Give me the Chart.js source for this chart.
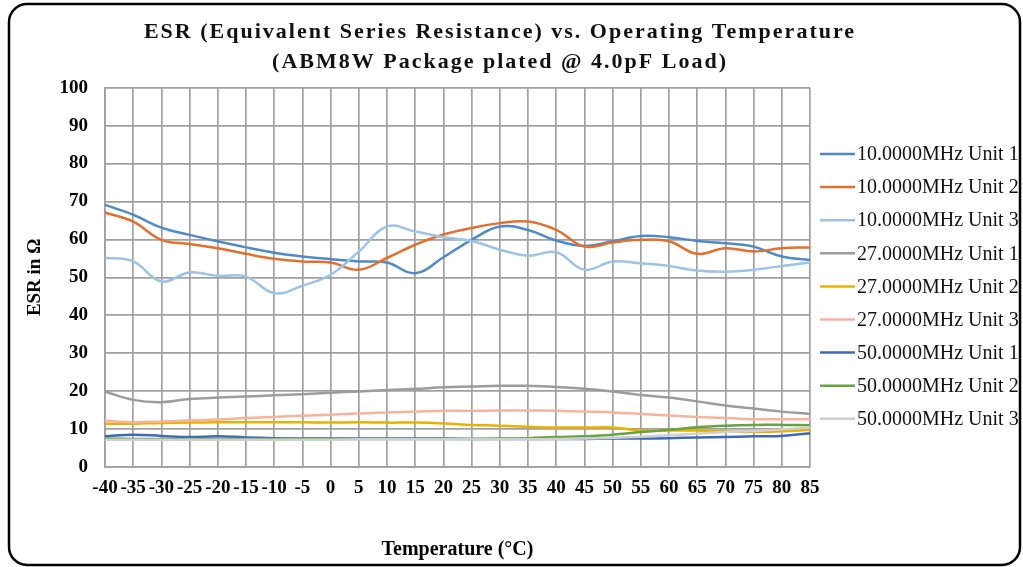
<!DOCTYPE html>
<html><head><meta charset="utf-8">
<script src="https://cdn.jsdelivr.net/npm/chart.js@4.4.0/dist/chart.umd.min.js"></script>
<style>html,body{margin:0;padding:0;background:#fff;overflow:hidden;}</style>
</head><body>
<canvas id="c" width="1023" height="567"></canvas>
<script>
// ---- data ----
const temperatures = [-40,-35,-30,-25,-20,-15,-10,-5,0,5,10,15,20,25,30,35,40,45,50,55,60,65,70,75,80,85];
const seriesNames = ['10.0000MHz Unit 1','10.0000MHz Unit 2','10.0000MHz Unit 3','27.0000MHz Unit 1','27.0000MHz Unit 2','27.0000MHz Unit 3','50.0000MHz Unit 1','50.0000MHz Unit 2','50.0000MHz Unit 3'];
const s10u1 = [69.1,66.5,63.1,61.2,59.5,57.9,56.5,55.5,54.8,54.2,53.9,51.1,55.3,59.9,63.4,62.5,59.7,58.3,59.5,60.9,60.6,59.6,59.0,58.1,55.5,54.6];
const s10u2 = [67.1,64.7,59.9,58.8,57.7,56.2,54.9,54.2,53.9,52.0,55.1,58.6,61.3,63.0,64.3,64.7,62.5,58.1,59.2,59.9,59.5,56.2,57.7,56.8,57.7,57.9];
const s10u3 = [55.2,54.2,48.9,51.3,50.4,50.2,45.8,47.8,50.7,56.8,63.4,62.1,60.6,59.6,57.3,55.7,56.6,52.0,54.2,53.7,53.0,51.8,51.5,52.0,53.0,53.9];
const s27u1 = [19.9,17.7,17.1,17.9,18.3,18.6,18.9,19.2,19.6,19.9,20.3,20.6,21.0,21.2,21.4,21.4,21.1,20.6,19.9,19.0,18.3,17.3,16.2,15.4,14.6,14.0];
const s27u2 = [11.4,11.4,11.6,11.7,11.8,11.8,11.8,11.8,11.7,11.8,11.7,11.7,11.5,11.1,10.9,10.6,10.4,10.4,10.4,9.6,9.6,9.6,9.4,9.2,9.4,9.8];
const s27u3 = [12.2,11.8,12.0,12.3,12.5,12.9,13.2,13.5,13.8,14.1,14.4,14.6,14.8,14.8,14.9,14.9,14.8,14.6,14.4,14.0,13.6,13.2,12.9,12.6,12.6,12.6];
const s50u1 = [8.1,8.5,8.2,7.9,8.1,7.8,7.6,7.5,7.5,7.5,7.5,7.5,7.5,7.4,7.4,7.4,7.4,7.4,7.5,7.5,7.6,7.8,7.9,8.1,8.2,8.9];
const s50u2 = [7.5,7.4,7.4,7.4,7.4,7.4,7.4,7.4,7.4,7.4,7.4,7.4,7.4,7.4,7.5,7.6,7.9,8.1,8.5,9.2,9.8,10.5,10.9,11.1,11.1,11.0];
const s50u3 = [7.2,7.2,7.2,7.2,7.2,7.2,7.2,7.2,7.2,7.3,7.3,7.3,7.3,7.3,7.3,7.3,7.4,7.5,7.7,8.0,8.4,8.8,9.2,9.5,9.9,10.4];
const yMin = 0, yMax = 100, yStep = 5;
const titleLines = ['ESR (Equivalent Series Resistance) vs. Operating Temperature','(ABM8W Package plated @ 4.0pF Load)'];
const xTitle = 'Temperature (\u00B0C)';
const yTitle = 'ESR in \u03A9';

const seriesValues = [s10u1,s10u2,s10u3,s27u1,s27u2,s27u3,s50u1,s50u2,s50u3];
const colors = ['#4f8ac6','#e2702f','#9dc3e6','#9c9c9c','#e9b100','#f7b49c','#3f68b8','#65a343','#cfcfcf'];

const SERIF = "'Liberation Serif', 'Times New Roman', serif";

const framePlugin = {
  id: 'frame',
  beforeUpdate(chart) {
    const tb = chart.titleBlock;
    if (tb && !tb._spaced) {
      const orig = tb.draw.bind(tb);
      tb.draw = function (...a) {
        const c = chart.ctx; c.save();
        if ('letterSpacing' in c) c.letterSpacing = '2px';
        orig(...a); c.restore();
      };
      tb._spaced = true;
    }
  },
  beforeDraw(chart) {
    const c = chart.ctx;
    c.save(); c.fillStyle = '#fff'; c.fillRect(0,0,chart.width,chart.height); c.restore();
  },
  afterDraw(chart) {
    const c = chart.ctx;
    // legend
    c.save();
    c.font = '20px ' + SERIF;
    c.textBaseline = 'middle';
    c.fillStyle = '#111';
    chart.data.datasets.forEach((ds, i) => {
      const y = 154 + 33.1 * i;
      c.strokeStyle = ds.borderColor; c.lineWidth = 2.5;
      c.beginPath(); c.moveTo(820, y); c.lineTo(855, y); c.stroke();
      c.fillText(ds.label, 857, y + 1);
    });
    // frame
    c.strokeStyle = '#000'; c.lineWidth = 2.5;
    const x0 = 9, y0 = 4, x1 = 1020, y1 = 565, r = 18;
    c.beginPath();
    c.moveTo(x0 + r, y0); c.lineTo(x1 - r, y0); c.arcTo(x1, y0, x1, y0 + r, r);
    c.lineTo(x1, y1 - r); c.arcTo(x1, y1, x1 - r, y1, r);
    c.lineTo(x0 + r, y1); c.arcTo(x0, y1, x0, y1 - r, r);
    c.lineTo(x0, y0 + r); c.arcTo(x0, y0, x0 + r, y0, r);
    c.closePath(); c.stroke();
    c.restore();
  }
};

new Chart(document.getElementById('c'), {
  type: 'line',
  data: {
    labels: temperatures.map(String),
    datasets: seriesValues.map((vals, i) => ({
      label: seriesNames[i],
      data: vals,
      borderColor: colors[i],
      backgroundColor: colors[i],
      borderWidth: 2.5,
      pointRadius: 0,
      tension: 0.4,
      fill: false,
      order: seriesValues.length - i
    }))
  },
  options: {
    responsive: false,
    animation: false,
    devicePixelRatio: 1,
    layout: { padding: { left: 12, right: 35, top: 10, bottom: 2 } },
    plugins: {
      legend: { display: false },
      tooltip: { enabled: false },
      title: {
        display: true,
        text: titleLines,
        color: '#111',
        font: { family: SERIF, weight: 'bold', size: 22, lineHeight: 1.38 },
        padding: { top: 7, bottom: 10 }
      }
    },
    scales: {
      x: {
        type: 'category',
        offset: false,
        grid: { color: '#a0a0a0', lineWidth: 1.7, drawTicks: false, offset: false },
        border: { display: true, color: '#a0a0a0', width: 1.7 },
        ticks: { autoSkip: false, maxRotation: 0, minRotation: 0, color: '#000', padding: 10,
                 font: { family: SERIF, weight: 'bold', size: 19 } },
        title: { display: true, text: xTitle, color: '#000', padding: { top: 0, bottom: 3 },
                 font: { family: SERIF, weight: 'bold', size: 20 } },
        afterFit: s => { s.height = 567 - 2 - 467; }
      },
      y: {
        min: yMin, max: yMax,
        grid: { color: ctx => (ctx.tick && ctx.tick.value % 10 === 0) ? '#a0a0a0' : '#d6d6d6', lineWidth: 1.7, drawTicks: false },
        border: { display: true, color: '#a0a0a0', width: 1.7 },
        ticks: { stepSize: yStep, color: '#000', padding: 17,
                 callback: v => (v % 10 === 0 ? String(v) : ''),
                 font: { family: SERIF, weight: 'bold', size: 19 } },
        title: { display: true, text: yTitle, color: '#000', padding: { top: 12, bottom: 0 },
                 font: { family: SERIF, weight: 'bold', size: 19 } },
        afterFit: s => { s.width = 105 - 12; }
      },
      legendSpace: {
        type: 'linear', position: 'right', display: true,
        grid: { display: false, drawOnChartArea: false },
        ticks: { display: false },
        border: { display: false },
        afterFit: s => { s.width = 1023 - 35 - 810; }
      }
    }
  },
  plugins: [framePlugin]
});
</script>
</body></html>
